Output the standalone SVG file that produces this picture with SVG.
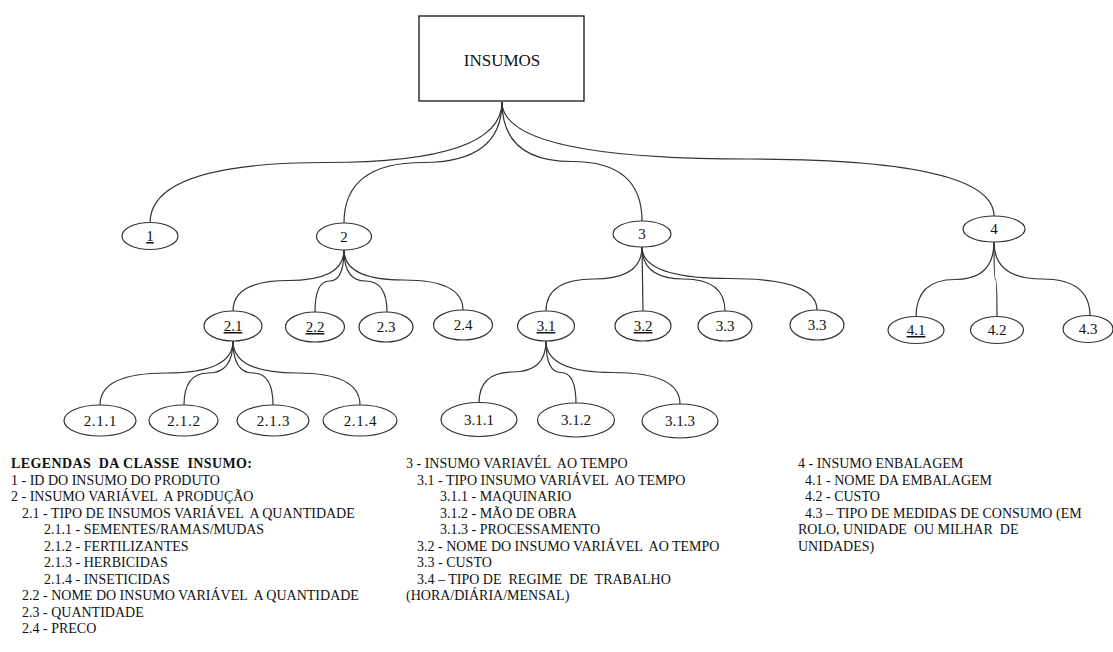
<svg xmlns="http://www.w3.org/2000/svg" width="1113" height="652" viewBox="0 0 1113 652">
<style>
.n{fill:#fff;stroke:#333;stroke-width:1.2}
.e{fill:none;stroke:#333;stroke-width:1.2}
.t{font-family:"Liberation Serif","Times New Roman",serif;font-size:15px;fill:#111;text-anchor:middle}
.u{text-decoration:underline}
.w{letter-spacing:0.7px}
.l{font-family:"Liberation Serif","Times New Roman",serif;font-size:14px;fill:#111;white-space:pre}
.b{font-weight:bold}
</style>
<rect width="1113" height="652" fill="#fff"/>
<g id="connectors">
<path class="e" d="M502,102 Q502,162.5 326,162.5 Q150,162.5 150,223"/>
<path class="e" d="M502,102 Q502,162.5 423,162.5 Q344,162.5 344,223"/>
<path class="e" d="M502,102 Q502,161.5 572,161.5 Q642,161.5 642,221"/>
<path class="e" d="M502,102 Q502,159 748,159 Q994,159 994,216"/>
<path class="e" d="M344,250 Q344,280.5 288.5,280.5 Q233,280.5 233,311"/>
<path class="e" d="M344,250 Q344,281 329.5,281 Q315,281 315,312"/>
<path class="e" d="M344,250 Q344,281 365.5,281 Q387,281 387,312"/>
<path class="e" d="M344,250 Q344,280 403.5,280 Q463,280 463,310"/>
<path class="e" d="M642,247 Q642,279 594,279 Q546,279 546,311"/>
<path class="e" d="M642,247 L643,311"/>
<path class="e" d="M642,247 Q642,279 683.5,279 Q725,279 725,311"/>
<path class="e" d="M642,247 Q642,278.5 729.5,278.5 Q817,278.5 817,310"/>
<path class="e" d="M994,242 Q994,279.5 955,279.5 Q916,279.5 916,317"/>
<path class="e" d="M994,242 Q994,279.5 995.5,279.5 Q997,279.5 997,317"/>
<path class="e" d="M994,242 Q994,279 1042,279 Q1090,279 1090,316"/>
<path class="e" d="M233,341 Q233,373 166.5,373 Q100,373 100,405"/>
<path class="e" d="M233,341 Q233,373 208.5,373 Q184,373 184,405"/>
<path class="e" d="M233,341 Q233,373 253,373 Q273,373 273,405"/>
<path class="e" d="M233,341 Q233,373 296.5,373 Q360,373 360,405"/>
<path class="e" d="M546,341 Q546,372 512.5,372 Q479,372 479,403"/>
<path class="e" d="M546,341 Q546,372.5 561,372.5 Q576,372.5 576,404"/>
<path class="e" d="M546,341 Q546,372.5 613,372.5 Q680,372.5 680,404"/>
</g>
<g id="insumos"><rect x="419" y="16" width="165" height="85" fill="#fff" stroke="#111" stroke-width="1.3"/><text class="t" x="502" y="66" style="font-size:17px">INSUMOS</text></g>
<g id="n1"><ellipse class="n" cx="150" cy="236" rx="28" ry="13.5"/><text class="t u" x="150" y="241">1</text></g>
<g id="n2"><ellipse class="n" cx="344" cy="236.5" rx="27.5" ry="13.5"/><text class="t" x="344" y="241.5">2</text></g>
<g id="n3"><ellipse class="n" cx="642" cy="234" rx="29" ry="13"/><text class="t" x="642" y="239">3</text></g>
<g id="n4"><ellipse class="n" cx="994" cy="229" rx="31" ry="13"/><text class="t" x="994" y="234">4</text></g>
<g id="n2_1"><ellipse class="n" cx="233" cy="326" rx="29" ry="15"/><text class="t u" x="233" y="331">2.1</text></g>
<g id="n2_2"><ellipse class="n" cx="315" cy="327" rx="29.5" ry="15"/><text class="t u" x="315" y="332">2.2</text></g>
<g id="n2_3"><ellipse class="n" cx="386" cy="327" rx="27" ry="15"/><text class="t" x="386" y="332">2.3</text></g>
<g id="n2_4"><ellipse class="n" cx="463" cy="325" rx="29.5" ry="15"/><text class="t" x="463" y="330">2.4</text></g>
<g id="n3_1"><ellipse class="n" cx="546" cy="326" rx="28.5" ry="15"/><text class="t u" x="546" y="331">3.1</text></g>
<g id="n3_2"><ellipse class="n" cx="643" cy="326" rx="28" ry="15"/><text class="t u" x="643" y="331">3.2</text></g>
<g id="n3_3"><ellipse class="n" cx="725" cy="326" rx="27" ry="15"/><text class="t" x="725" y="331">3.3</text></g>
<g id="n3_3b"><ellipse class="n" cx="817" cy="325" rx="27" ry="15"/><text class="t" x="817" y="330">3.3</text></g>
<g id="n4_1"><ellipse class="n" cx="916" cy="330" rx="28" ry="13.5"/><text class="t u" x="916" y="335">4.1</text></g>
<g id="n4_2"><ellipse class="n" cx="997" cy="330" rx="26.5" ry="13.5"/><text class="t" x="997" y="335">4.2</text></g>
<g id="n4_3"><ellipse class="n" cx="1088" cy="329" rx="25" ry="13.5"/><text class="t" x="1088" y="334">4.3</text></g>
<g id="n2_1_1"><ellipse class="n" cx="100" cy="420.5" rx="36" ry="15.5"/><text class="t w" x="100.4" y="425.5">2.1.1</text></g>
<g id="n2_1_2"><ellipse class="n" cx="183.5" cy="420.5" rx="34.5" ry="15.5"/><text class="t w" x="183.9" y="425.5">2.1.2</text></g>
<g id="n2_1_3"><ellipse class="n" cx="273" cy="420.5" rx="36" ry="15.5"/><text class="t w" x="273.4" y="425.5">2.1.3</text></g>
<g id="n2_1_4"><ellipse class="n" cx="360" cy="420.5" rx="37" ry="15.5"/><text class="t w" x="360.4" y="425.5">2.1.4</text></g>
<g id="n3_1_1"><ellipse class="n" cx="479" cy="419.5" rx="38" ry="17"/><text class="t" x="479" y="424.5">3.1.1</text></g>
<g id="n3_1_2"><ellipse class="n" cx="576" cy="420" rx="38.5" ry="17"/><text class="t" x="576" y="425">3.1.2</text></g>
<g id="n3_1_3"><ellipse class="n" cx="680" cy="421" rx="38" ry="17"/><text class="t" x="680" y="426">3.1.3</text></g>
<g id="legend1" xml:space="preserve">
<text class="l b" x="11" y="468" textLength="241">LEGENDAS  DA CLASSE  INSUMO:</text>
<text class="l" x="11" y="484.5">1 - ID DO INSUMO DO PRODUTO</text>
<text class="l" x="11" y="501">2 - INSUMO VARIÁVEL  A PRODUÇÃO</text>
<text class="l" x="22" y="517.5">2.1 - TIPO DE INSUMOS VARIÁVEL  A QUANTIDADE</text>
<text class="l" x="44" y="534">2.1.1 - SEMENTES/RAMAS/MUDAS</text>
<text class="l" x="44" y="550.5">2.1.2 - FERTILIZANTES</text>
<text class="l" x="44" y="567">2.1.3 - HERBICIDAS</text>
<text class="l" x="44" y="583.5">2.1.4 - INSETICIDAS</text>
<text class="l" x="22" y="600">2.2 - NOME DO INSUMO VARIÁVEL  A QUANTIDADE</text>
<text class="l" x="22" y="616.5">2.3 - QUANTIDADE</text>
<text class="l" x="22" y="633">2.4 - PRECO</text>
</g>
<g id="legend2" xml:space="preserve">
<text class="l" x="406" y="468">3 - INSUMO VARIAVÉL  AO TEMPO</text>
<text class="l" x="417" y="484.5">3.1 - TIPO INSUMO VARIÁVEL  AO TEMPO</text>
<text class="l" x="440" y="501">3.1.1 - MAQUINARIO</text>
<text class="l" x="440" y="517.5">3.1.2 - MÃO DE OBRA</text>
<text class="l" x="440" y="534">3.1.3 - PROCESSAMENTO</text>
<text class="l" x="417" y="550.5">3.2 - NOME DO INSUMO VARIÁVEL  AO TEMPO</text>
<text class="l" x="417" y="567">3.3 - CUSTO</text>
<text class="l" x="417" y="583.5">3.4 – TIPO DE  REGIME  DE  TRABALHO</text>
<text class="l" x="406" y="600">(HORA/DIÁRIA/MENSAL)</text>
</g>
<g id="legend3" xml:space="preserve">
<text class="l" x="798" y="468">4 - INSUMO ENBALAGEM</text>
<text class="l" x="805" y="484.5">4.1 - NOME DA EMBALAGEM</text>
<text class="l" x="805" y="501">4.2 - CUSTO</text>
<text class="l" x="805" y="517.5">4.3 – TIPO DE MEDIDAS DE CONSUMO (EM</text>
<text class="l" x="798" y="534">ROLO, UNIDADE  OU MILHAR  DE</text>
<text class="l" x="798" y="550.5">UNIDADES)</text>
</g>
</svg>
